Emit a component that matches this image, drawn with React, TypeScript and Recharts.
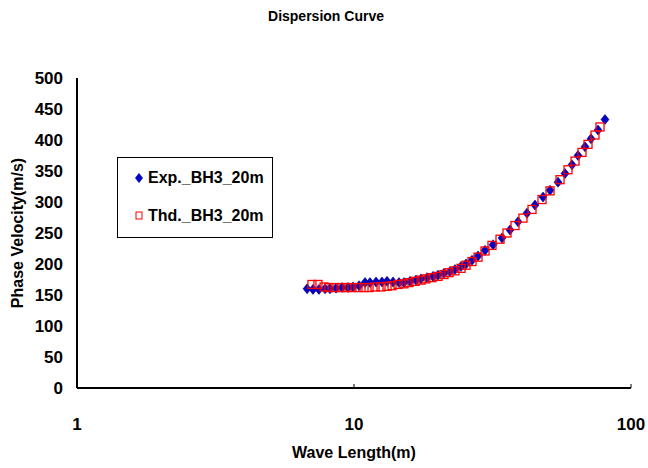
import React from 'react';
import {
  ScatterChart,
  Scatter,
  XAxis,
  YAxis,
} from 'recharts';

// Experimental curve (blue diamonds)
const expLength = [
  6.77, 7.11, 7.47, 7.86, 8.19, 8.61, 9.05, 9.51, 9.92, 10.43, 10.96, 11.42,
  12.01, 12.62, 13.16, 13.83, 14.54, 15.15, 15.93, 16.74, 17.46, 18.34, 19.28,
  20.11, 21.13, 22.22, 23.15, 24.34, 25.37, 26.67, 28.04, 29.72, 31.76, 34.22,
  36.57, 39.09, 42.12, 45.02, 48.13, 51.01, 54.52, 57.78, 61.24, 64.38, 68.23,
  71.72, 76.03, 80.56,
];
const expVelocity = [
  160, 159, 159, 160, 160, 161, 162, 162, 163, 165, 170, 170,
  171, 171, 172, 171, 170, 170, 172, 174, 176, 178, 180,
  182, 185, 188, 191, 196, 200, 206, 213, 222, 231, 242,
  255, 268, 282, 295, 308, 319, 332, 346, 360, 375, 389,
  402, 416, 433,
];

// Theoretical curve (red open squares)
const thdLength = [
  7.05, 7.41, 7.8, 8.12, 8.54, 8.98, 9.43, 9.83, 10.34, 10.87, 11.33, 11.91,
  12.52, 13.16, 13.72, 14.42, 15.15, 15.8, 16.61, 17.46, 18.19, 19.12, 20.11,
  21.13, 22.03, 23.15, 24.34, 25.37, 26.67, 28.04, 29.72, 31.49, 33.66, 35.68,
  38.13, 40.74, 43.92, 47.73, 51.01, 55.43, 59.23, 62.81, 66.55, 69.96, 74.13,
  77.3,
];
const thdVelocity = [
  167, 167, 163, 162, 162, 162, 162, 162, 162, 162, 162, 163,
  163, 164, 165, 167, 168, 170, 172, 174, 176, 178, 180,
  183, 186, 189, 193, 198, 204, 211, 221, 230, 240, 250,
  262, 274, 288, 304, 318, 336, 352, 366, 380, 393, 408,
  421,
];

const xTicks = [1, 10, 100];
const yTicks = [0, 50, 100, 150, 200, 250, 300, 350, 400, 450, 500];

const expData = expLength.map((x, i) => ({ x, y: expVelocity[i] }));
const thdData = thdLength.map((x, i) => ({ x, y: thdVelocity[i] }));

const FONT = '"Liberation Sans", Arial, sans-serif';
const BLUE = '#0000c8';
const RED = '#ff0000';

const Diamond = (props: any) => {
  const { cx, cy } = props;
  return (
    <polygon
      points={`${cx},${cy - 5} ${cx + 4},${cy} ${cx},${cy + 5} ${cx - 4},${cy}`}
      fill={BLUE}
      stroke="#000080"
      strokeWidth={0.6}
    />
  );
};

const Square = (props: any) => {
  const { cx, cy } = props;
  return (
    <rect x={cx - 4} y={cy - 4} width={8} height={8} fill="none" stroke={RED} strokeWidth={1.3} />
  );
};

// legend box sits inside the plot, like the original Excel chart
const LegendBox = () => (
  <div
    style={{
      position: 'absolute',
      left: 117,
      top: 157,
      width: 154,
      height: 79,
      border: '1px solid #000',
      background: '#fff',
      fontFamily: FONT,
      fontWeight: 'bold',
      fontSize: 16,
      color: '#000',
    }}
  >
    <div style={{ position: 'relative', height: 40 }}>
      <svg width={10} height={12} style={{ position: 'absolute', left: 16, top: 14 }}>
        <polygon points="5,1 9,6 5,11 1,6" fill={BLUE} />
      </svg>
      <span style={{ position: 'absolute', left: 30, top: 11, whiteSpace: 'nowrap' }}>Exp._BH3_20m</span>
    </div>
    <div style={{ position: 'relative', height: 39 }}>
      <svg width={10} height={12} style={{ position: 'absolute', left: 17, top: 12 }}>
        <rect x={1} y={2} width={6} height={7} fill="none" stroke={RED} strokeWidth={1} />
      </svg>
      <span style={{ position: 'absolute', left: 30, top: 9, whiteSpace: 'nowrap' }}>Thd._BH3_20m</span>
    </div>
  </div>
);

export default function App() {
  const tickStyle = { fill: '#000', fontSize: 17, fontFamily: FONT, fontWeight: 'bold' as const };
  return (
    <div style={{ position: 'absolute', left: 0, top: 0, width: 648, height: 468, background: '#fff' }}>
      <div
        style={{
          position: 'absolute',
          left: 0,
          top: 8,
          width: 652,
          textAlign: 'center',
          fontFamily: FONT,
          fontWeight: 'bold',
          fontSize: 14,
          color: '#000',
        }}
      >
        Dispersion Curve
      </div>
      <ScatterChart width={648} height={468} margin={{ top: 78, right: 17, bottom: 0, left: 0 }}>
        <XAxis
          xAxisId="top"
          orientation="top"
          dataKey="x"
          type="number"
          scale="log"
          domain={[1, 100]}
          height={0}
          tick={false}
          tickLine={false}
          axisLine={{ stroke: '#808080', strokeWidth: 1.5 }}
        />
        <YAxis
          yAxisId="right"
          orientation="right"
          dataKey="y"
          type="number"
          domain={[0, 500]}
          width={0}
          tick={false}
          tickLine={false}
          axisLine={{ stroke: '#c0c0c0', strokeWidth: 2 }}
        />
        <XAxis
          dataKey="x"
          type="number"
          scale="log"
          domain={[1, 100]}
          ticks={xTicks}
          interval={0}
          allowDataOverflow
          height={80}
          tick={tickStyle}
          tickSize={-4}
          tickMargin={34}
          tickLine={{ stroke: '#000' }}
          axisLine={{ stroke: '#000', strokeWidth: 2 }}
          label={{
            value: 'Wave Length(m)',
            position: 'insideBottom',
            offset: 10,
            style: { fill: '#000', fontSize: 16, fontFamily: FONT, fontWeight: 'bold' },
          }}
        />
        <YAxis
          dataKey="y"
          type="number"
          domain={[0, 500]}
          ticks={yTicks}
          interval={0}
          width={77}
          tick={tickStyle}
          tickSize={0}
          tickMargin={14}
          axisLine={{ stroke: '#000', strokeWidth: 2 }}
          label={{
            value: 'Phase Velocity(m/s)',
            angle: -90,
            position: 'center',
            dx: -21,
            style: { fill: '#000', fontSize: 16, fontFamily: FONT, fontWeight: 'bold', textAnchor: 'middle' },
          }}
        />
        <Scatter name="Exp._BH3_20m" data={expData} shape={Diamond} isAnimationActive={false} />
        <Scatter name="Thd._BH3_20m" data={thdData} shape={Square} isAnimationActive={false} />
      </ScatterChart>
      <LegendBox />
    </div>
  );
}
